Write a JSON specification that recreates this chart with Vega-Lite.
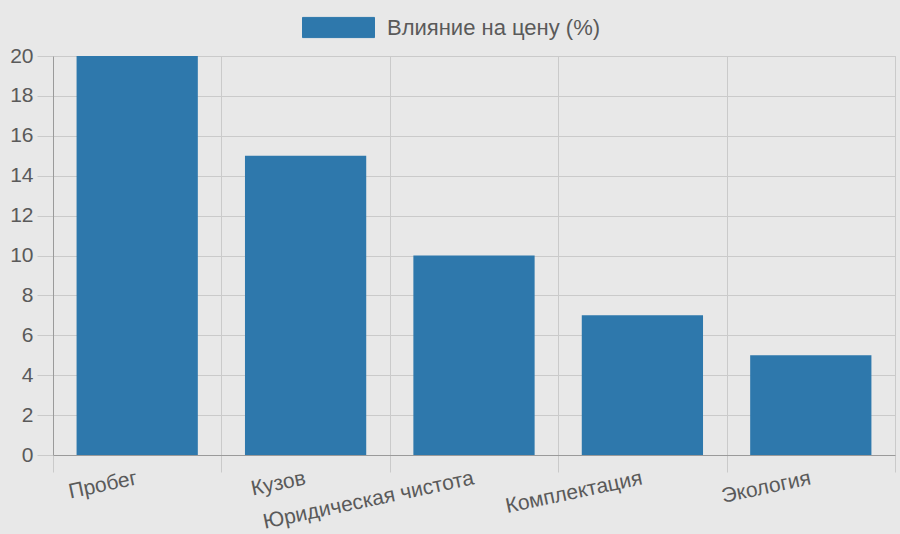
{
  "$schema": "https://vega.github.io/schema/vega-lite/v6.json",
  "width": 842,
  "height": 399,
  "autosize": {"type": "none"},
  "padding": {"left": 53, "top": 56, "right": 5, "bottom": 79},
  "background": "#e8e8e8",
  "config": {
    "font": "Liberation Sans",
    "view": {"stroke": "#cacaca", "strokeWidth": 1}
  },
  "data": {
    "values": [
      {"factor": "Пробег", "value": 20},
      {"factor": "Кузов", "value": 15},
      {"factor": "Юридическая чистота", "value": 10},
      {"factor": "Комплектация", "value": 7},
      {"factor": "Экология", "value": 5}
    ]
  },
  "mark": {"type": "bar", "width": {"band": 0.72}},
  "encoding": {
    "x": {
      "field": "factor",
      "type": "nominal",
      "sort": null,
      "scale": {"paddingInner": 0, "paddingOuter": 0},
      "axis": {
        "title": null,
        "tickBand": "extent",
        "grid": true,
        "gridColor": "#cacaca",
        "tickColor": "#cacaca",
        "tickSize": 17,
        "domainColor": "#9a9a9a",
        "labelAngle": -12,
        "labelAlign": "right",
        "labelBaseline": "top",
        "labelPadding": -5,
        "labelOffset": -3,
        "labelFontSize": 21,
        "labelLimit": 0,
        "labelColor": "#5a5a5a",
        "labelFont": "Liberation Sans"
      }
    },
    "y": {
      "field": "value",
      "type": "quantitative",
      "scale": {"domain": [0, 20], "nice": false},
      "axis": {
        "title": null,
        "values": [0, 2, 4, 6, 8, 10, 12, 14, 16, 18, 20],
        "grid": true,
        "gridColor": "#cacaca",
        "tickColor": "#cacaca",
        "tickSize": 16,
        "domainColor": "#9a9a9a",
        "labelPadding": 4,
        "labelFontSize": 21,
        "labelColor": "#5a5a5a",
        "labelFont": "Liberation Sans"
      }
    },
    "color": {
      "datum": "Влияние на цену (%)",
      "scale": {"range": ["#2e78ac"]},
      "legend": {
        "title": null,
        "orient": "none",
        "legendX": 249,
        "legendY": -65,
        "padding": 0,
        "symbolType": "M-1,-0.28H1V0.28H-1Z",
        "symbolSize": 5184,
        "symbolStrokeWidth": 1,
        "symbolStrokeColor": "#2e78ac",
        "symbolOpacity": 1,
        "labelFontSize": 22,
        "labelLimit": 0,
        "labelColor": "#5a5a5a",
        "labelOffset": 12,
        "labelFont": "Liberation Sans"
      }
    }
  }
}
